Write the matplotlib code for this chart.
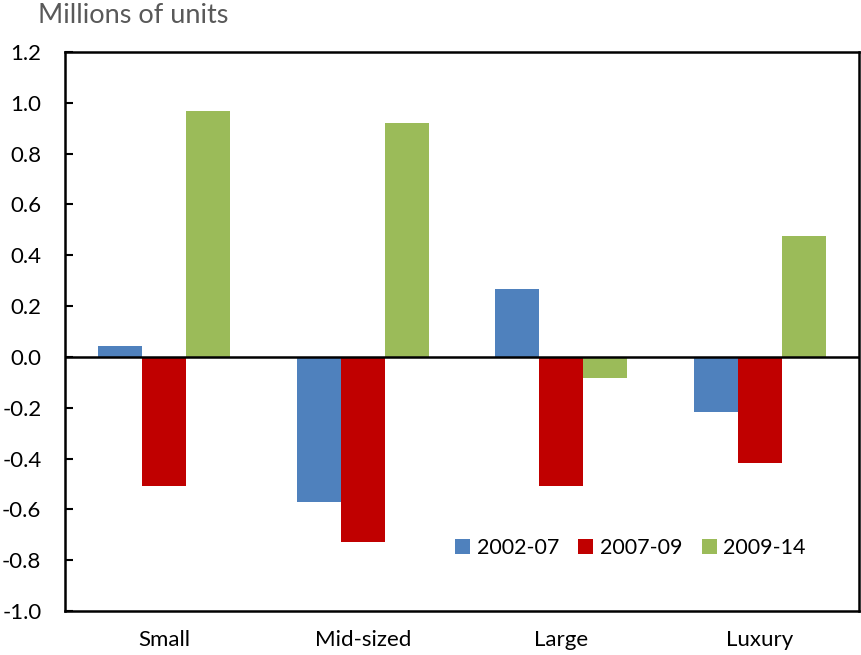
import numpy as np
import matplotlib.pyplot as plt

plt.rcParams['font.family'] = ['Lato', 'DejaVu Sans']

categories = ['Small', 'Mid-sized', 'Large', 'Luxury']
series = ['2002-07', '2007-09', '2009-14']
v_2002_07 = [0.043, -0.571, 0.268, -0.217]
v_2007_09 = [-0.508, -0.728, -0.508, -0.417]
v_2009_14 = [0.968, 0.921, -0.083, 0.476]
colors = ['#4F81BD', '#C00000', '#9BBB59']
yticks = [-1.0, -0.8, -0.6, -0.4, -0.2, 0.0, 0.2, 0.4, 0.6, 0.8, 1.0, 1.2]

fig = plt.figure(figsize=(8.61, 6.55), dpi=100)
ax = fig.add_axes([0.0755, 0.0672, 0.9222, 0.8534])

ind = np.arange(len(categories))
width = 0.222
for i, (vals, name) in enumerate(zip([v_2002_07, v_2007_09, v_2009_14], series)):
    ax.bar(ind + (i - 1) * width, vals, width, color=colors[i], label=name)

ax.set_xlim(-0.5, len(categories) - 0.5)
ax.set_ylim(-1.0, 1.2)
ax.set_yticks(yticks)
ax.set_yticklabels(['%.1f' % t for t in yticks], fontsize=16)
ax.set_xticks(ind)
ax.set_xticklabels(categories, fontsize=16)
ax.tick_params(axis='y', direction='in', length=6, width=1.5, pad=17)
ax.tick_params(axis='x', length=0, pad=14)
ax.axhline(0, color='black', linewidth=1.8)
for s in ax.spines.values():
    s.set_linewidth(1.8)

fig.text(0.044, 0.977, 'Millions of units', fontsize=19.5, color='#595959', va='center')

ax.legend(loc='center', bbox_to_anchor=(0.712, 0.113), ncol=3, frameon=False,
          fontsize=15.5, handlelength=0.7, handleheight=0.7, handletextpad=0.3,
          columnspacing=0.9)

fig.savefig('out.png', dpi=100)
